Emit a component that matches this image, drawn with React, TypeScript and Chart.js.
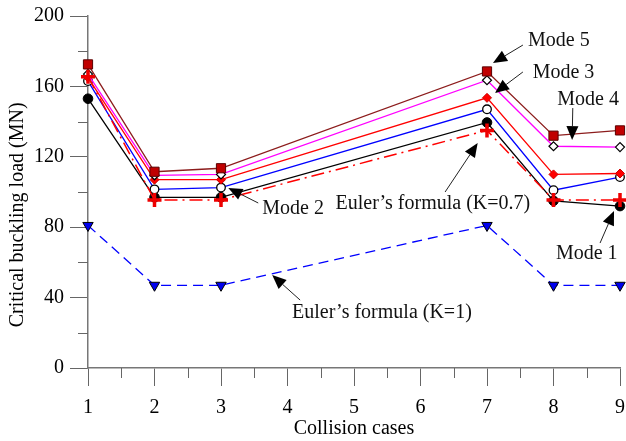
import { useEffect, useRef } from 'react';
import { Chart, registerables } from 'chart.js';

Chart.register(...registerables);

// ---- data ----
const collisionCases = [1, 2, 3, 7, 8, 9];
const mode1 = [153, 97, 97, 139.5, 95, 92];
const mode2 = [163, 101.5, 102.5, 147, 101, 108.5];
const mode3 = [165, 107, 107, 153.5, 110, 110.5];
const mode4 = [167, 109.5, 110, 163.5, 126, 125.5];
const mode5 = [172.5, 111.5, 113.5, 168.5, 132, 135];
const euler07 = [165.5, 95.5, 95.5, 135, 95.5, 95.5];
const euler1 = [81, 47, 47, 81, 47, 47];

const xMinorTicks = [1.5, 2.5, 3.5, 4.5, 5.5, 6.5, 7.5, 8.5];
const yMinorTicks = [20, 60, 100, 140, 180];

const yTitle = 'Critical buckling load (MN)';

// annotation labels with arrows (positions in data units)
const annotations = [
  { text: 'Mode 5', x: 8.08, y: 185.8, align: 'center', tail: [7.54, 183.5], tip: [7.09, 173.3] },
  { text: 'Mode 3', x: 8.15, y: 167.6, align: 'center', tail: [7.54, 168.2], tip: [7.12, 156.3] },
  { text: 'Mode 4', x: 8.52, y: 152.3, align: 'center', tail: [8.29, 147.7], tip: [8.28, 129.5] },
  { text: 'Euler\u2019s formula (K=0.7)', x: 7.65, y: 93.2, align: 'right', tail: [6.37, 100], tip: [6.86, 127.8] },
  { text: 'Mode 2', x: 3.62, y: 90.3, align: 'left', tail: [3.56, 93.75], tip: [3.11, 102.3] },
  { text: 'Mode 1', x: 8.5, y: 64.8, align: 'center', tail: [8.7, 71], tip: [8.91, 89.2] },
  { text: 'Euler\u2019s formula (K=1)', x: 5.42, y: 31.25, align: 'center', tail: [4.19, 38.6], tip: [3.77, 52.8] },
];

const FONT = '"Liberation Serif", "Times New Roman", serif';

const toPoints = (vals: number[]) => collisionCases.map((x, i) => ({ x, y: vals[i] }));

const overlayPlugin = {
  id: 'overlay',
  afterDraw(chart: any) {
    const { ctx, chartArea, scales } = chart;
    const xs = scales.x;
    const ys = scales.y;
    ctx.save();
    // minor ticks
    ctx.strokeStyle = '#666';
    ctx.lineWidth = 1;
    ctx.beginPath();
    for (const v of yMinorTicks) {
      const py = Math.round(ys.getPixelForValue(v)) + 0.5;
      ctx.moveTo(chartArea.left - 10, py);
      ctx.lineTo(chartArea.left, py);
    }
    for (const v of xMinorTicks) {
      const px = Math.round(xs.getPixelForValue(v)) + 0.5;
      ctx.moveTo(px, chartArea.bottom);
      ctx.lineTo(px, chartArea.bottom + 10);
    }
    ctx.stroke();

    // y axis title
    ctx.save();
    ctx.font = `20px ${FONT}`;
    ctx.fillStyle = '#000';
    ctx.textAlign = 'center';
    ctx.textBaseline = 'middle';
    ctx.translate(18, ys.getPixelForValue(87));
    ctx.rotate(-Math.PI / 2);
    ctx.fillText(yTitle, 0, 0);
    ctx.restore();

    // annotations
    ctx.font = `20px ${FONT}`;
    ctx.fillStyle = '#111';
    ctx.textBaseline = 'middle';
    for (const a of annotations) {
      ctx.textAlign = a.align as CanvasTextAlign;
      ctx.fillText(a.text, xs.getPixelForValue(a.x), ys.getPixelForValue(a.y));
      const tx = xs.getPixelForValue(a.tail[0]);
      const ty = ys.getPixelForValue(a.tail[1]);
      const hx = xs.getPixelForValue(a.tip[0]);
      const hy = ys.getPixelForValue(a.tip[1]);
      const ang = Math.atan2(hy - ty, hx - tx);
      const len = 14;
      const hw = 6;
      const bx = hx - Math.cos(ang) * len;
      const by = hy - Math.sin(ang) * len;
      ctx.strokeStyle = '#222';
      ctx.lineWidth = 1;
      ctx.beginPath();
      ctx.moveTo(tx, ty);
      ctx.lineTo(bx, by);
      ctx.stroke();
      ctx.fillStyle = '#000';
      ctx.beginPath();
      ctx.moveTo(hx, hy);
      ctx.lineTo(bx + Math.sin(ang) * hw, by - Math.cos(ang) * hw);
      ctx.lineTo(bx - Math.sin(ang) * hw, by + Math.cos(ang) * hw);
      ctx.closePath();
      ctx.fill();
      ctx.fillStyle = '#111';
    }
    ctx.restore();
  },
};

export default function App() {
  const ref = useRef<HTMLCanvasElement>(null);
  useEffect(() => {
    document.body.style.margin = '0';
    const canvas = ref.current!;
    const lineBase = { showLine: true, clip: false as any, tension: 0, borderWidth: 1.3 };
    const chart = new Chart(canvas, {
      type: 'scatter',
      data: {
        datasets: [
          {
            ...lineBase,
            label: 'Euler K=0.7',
            data: toPoints(euler07),
            borderColor: '#ff0000',
            borderDash: [13, 5, 2, 5],
            borderWidth: 1.5,
            pointStyle: 'cross',
            pointRadius: 7,
            pointBorderWidth: 3.5,
            pointBorderColor: '#ee0000',
            pointBackgroundColor: '#ee0000',
          },
          {
            ...lineBase,
            label: 'Mode 5',
            data: toPoints(mode5),
            borderColor: '#8c1c1c',
            pointStyle: 'rect',
            pointRadius: 6.5,
            pointBorderWidth: 1,
            pointBorderColor: '#5a0000',
            pointBackgroundColor: '#c00000',
          },
          {
            ...lineBase,
            label: 'Mode 4',
            data: toPoints(mode4),
            borderColor: '#ff00ff',
            pointStyle: 'rectRot',
            pointRadius: 4.5,
            pointBorderWidth: 1.2,
            pointBorderColor: '#000',
            pointBackgroundColor: '#fff',
          },
          {
            ...lineBase,
            label: 'Mode 3',
            data: toPoints(mode3),
            borderColor: '#ff0000',
            pointStyle: 'rectRot',
            pointRadius: 4.5,
            pointBorderWidth: 1,
            pointBorderColor: '#cc0000',
            pointBackgroundColor: '#ff0000',
          },
          {
            ...lineBase,
            label: 'Mode 2',
            data: toPoints(mode2),
            borderColor: '#0000ff',
            pointStyle: 'circle',
            pointRadius: 4.3,
            pointBorderWidth: 1.3,
            pointBorderColor: '#000',
            pointBackgroundColor: '#fff',
          },
          {
            ...lineBase,
            label: 'Mode 1',
            data: toPoints(mode1),
            borderColor: '#000',
            pointStyle: 'circle',
            pointRadius: 4.8,
            pointBorderWidth: 1,
            pointBorderColor: '#000',
            pointBackgroundColor: '#000',
          },
          {
            ...lineBase,
            label: 'Euler K=1',
            data: toPoints(euler1),
            borderColor: '#0000ff',
            borderDash: [10, 6],
            borderWidth: 1.3,
            pointStyle: 'triangle',
            rotation: 180,
            pointRotation: 180,
            pointRadius: 6,
            pointBorderWidth: 1,
            pointBorderColor: '#000',
            pointBackgroundColor: '#0000ee',
          } as any,
        ],
      },
      options: {
        animation: false,
        responsive: false,
        maintainAspectRatio: false,
        layout: { autoPadding: false, padding: { left: 0, top: 16, right: 6, bottom: 0 } },
        plugins: { legend: { display: false }, tooltip: { enabled: false } },
        scales: {
          x: {
            type: 'linear',
            min: 1,
            max: 9,
            ticks: { stepSize: 1, color: '#000', font: { family: FONT, size: 20 }, padding: 10 },
            grid: { drawOnChartArea: false, drawTicks: true, tickLength: 18, color: '#666' },
            border: { color: '#777', width: 1.5 },
            title: { display: true, text: 'Collision cases', color: '#000', font: { family: FONT, size: 20 }, padding: { top: 0, bottom: 0 } },
            afterFit: (s: any) => { s.height = 73; s.paddingRight = 0; s.paddingLeft = 0; },
          },
          y: {
            type: 'linear',
            min: 0,
            max: 200,
            ticks: { stepSize: 40, color: '#000', font: { family: FONT, size: 20 }, padding: 6 },
            grid: { drawOnChartArea: false, drawTicks: true, tickLength: 18, color: '#666' },
            border: { color: '#777', width: 1.5 },
            title: { display: false },
            afterFit: (s: any) => { s.width = 88; s.paddingTop = 0; s.paddingBottom = 0; },
          },
        },
      },
      plugins: [overlayPlugin],
    } as any);
    return () => chart.destroy();
  }, []);
  return (
    <div style={{ position: 'absolute', left: 0, top: 0, width: 626, height: 441, background: '#fff' }}>
      <canvas ref={ref} width={626} height={441} style={{ width: 626, height: 441 }} />
    </div>
  );
}
